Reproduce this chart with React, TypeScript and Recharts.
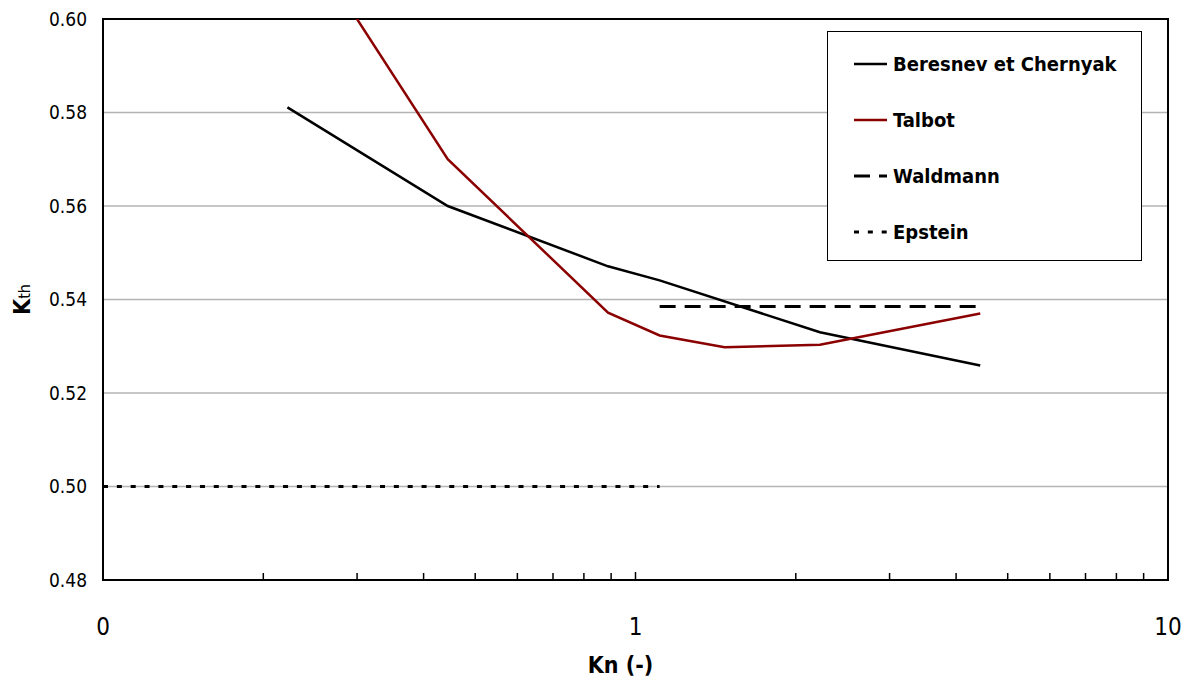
import {
  CartesianGrid,
  Legend,
  Line,
  LineChart,
  ReferenceArea,
  XAxis,
  YAxis,
} from "recharts";

// Kn values and thermal coefficient for each model
const knBeresnev = [0.222, 0.444, 0.888, 1.11, 2.22, 4.44];
const kthBeresnev = [0.5811, 0.56, 0.5471, 0.5441, 0.533, 0.5259];

const knTalbot = [0.222, 0.444, 0.888, 1.11, 1.47, 2.22, 4.44];
const kthTalbot = [0.623, 0.57, 0.5372, 0.5323, 0.5298, 0.5303, 0.537];

const knWaldmann = [1.11, 4.44];
const kthWaldmann = [0.5385, 0.5385];

const knEpstein = [0.1, 1.11];
const kthEpstein = [0.5, 0.5];

const xTicks = [
  0.1, 0.2, 0.3, 0.4, 0.5, 0.6, 0.7, 0.8, 0.9, 1, 2, 3, 4, 5, 6, 7, 8, 9, 10,
];
const xLabelled = [0.1, 1, 10];
const yTicks = [0.48, 0.5, 0.52, 0.54, 0.56, 0.58, 0.6];

const toPoints = (xs: number[], ys: number[]) =>
  xs.map((x, i) => ({ x, y: ys[i] }));

const series = [
  {
    name: "Beresnev et Chernyak",
    data: toPoints(knBeresnev, kthBeresnev),
    color: "#000000",
    dash: undefined as string | undefined,
    width: 2.5,
  },
  {
    name: "Talbot",
    data: toPoints(knTalbot, kthTalbot),
    color: "#8b0000",
    dash: undefined as string | undefined,
    width: 2.5,
  },
  {
    name: "Waldmann",
    data: toPoints(knWaldmann, kthWaldmann),
    color: "#000000",
    dash: "16 9",
    width: 3,
  },
  {
    name: "Epstein",
    data: toPoints(knEpstein, kthEpstein),
    color: "#000000",
    dash: "5 8.85",
    width: 3,
  },
];

const narrowFont = '"Liberation Sans Narrow", "DejaVu Sans Condensed", sans-serif';
const condFont = '"DejaVu Sans Condensed", "DejaVu Sans", sans-serif';

function XTick(props: any) {
  const { x, y, payload } = props;
  const value = payload?.value as number;
  const labelled = xLabelled.includes(value);

  return (
    <g>
      <line x1={x} x2={x} y1={y} y2={y - (labelled ? 8 : 7)} stroke="#000" strokeWidth={1.5} />
      {labelled && (
        <text
          x={x}
          y={y + 55}
          textAnchor="middle"
          fontFamily={narrowFont}
          fontSize={24}
          fill="#000"
        >
          {value < 1 ? "0" : String(value)}
        </text>
      )}
    </g>
  );
}

function YLabel(props: any) {
  const { viewBox } = props;
  const cx = 14;
  const cy = viewBox.y + viewBox.height / 2;

  return (
    <text
      x={cx}
      y={cy}
      transform={`rotate(-90, ${cx}, ${cy})`}
      textAnchor="middle"
      dominantBaseline="central"
      fontFamily={condFont}
      fill="#000"
    >
      <tspan fontSize={23} fontWeight="bold">K</tspan>
      <tspan fontSize={16} dy={2}>th</tspan>
    </text>
  );
}

function XLabel(props: any) {
  const { viewBox } = props;
  const cx = viewBox.x + viewBox.width / 2 - 15;

  return (
    <text
      x={cx}
      y={665}
      textAnchor="middle"
      fontFamily={narrowFont}
      fontSize={23}
      fontWeight="bold"
      fill="#000"
    >
      Kn (-)
    </text>
  );
}

function LegendBox() {
  return (
    <div
      style={{
        position: "relative",
        width: 315,
        height: 230,
        boxSizing: "border-box",
        border: "1.5px solid #000",
        background: "#fff",
      }}
    >
      {series.map((s, i) => (
        <div
          key={s.name}
          style={{
            position: "absolute",
            left: 26,
            top: 32 + i * 56 - 12,
            height: 24,
            display: "flex",
            alignItems: "center",
            whiteSpace: "nowrap",
          }}
        >
          <svg width={33} height={8} style={{ display: "block" }}>
            <line
              x1={0}
              x2={33}
              y1={4}
              y2={4}
              stroke={s.color}
              strokeWidth={s.width}
              strokeDasharray={s.dash}
            />
          </svg>
          <span
            style={{
              marginLeft: 6,
              fontFamily: condFont,
              fontWeight: "bold",
              fontSize: 20,
              color: "#000",
            }}
          >
            {s.name}
          </span>
        </div>
      ))}
    </div>
  );
}

export default function App() {
  return (
    <LineChart
      width={1184}
      height={673}
      margin={{ top: 11, right: 24, left: 0, bottom: 0 }}
      style={{ background: "#fff" }}
    >
      <CartesianGrid vertical={false} stroke="#b4b4b4" strokeWidth={1.5} />
      <XAxis
        dataKey="x"
        type="number"
        scale="log"
        domain={[0.1, 10]}
        allowDataOverflow
        ticks={xTicks}
        interval={0}
        height={101}
        axisLine={false}
        tickLine={false}
        tickSize={0}
        tickMargin={0}
        tick={(p: any) => <XTick {...p} />}
        label={{ content: (p: any) => <XLabel {...p} /> }}
      />
      <YAxis
        type="number"
        domain={[0.48, 0.6]}
        allowDataOverflow
        ticks={yTicks}
        interval={0}
        width={95}
        axisLine={false}
        tickLine={false}
        tickSize={0}
        tickMargin={16}
        tickFormatter={(v: number) => v.toFixed(2)}
        tick={{ fill: "#000", fontSize: 19, fontFamily: condFont }}
        label={{ content: (p: any) => <YLabel {...p} /> }}
      />
      <ReferenceArea
        x1={0.1}
        x2={10}
        y1={0.48}
        y2={0.6}
        fill="none"
        stroke="#000"
        strokeWidth={2}
      />
      {series.map((s) => (
        <Line
          key={s.name}
          data={s.data}
          dataKey="y"
          name={s.name}
          type="linear"
          stroke={s.color}
          strokeWidth={s.width}
          strokeDasharray={s.dash}
          dot={false}
          activeDot={false}
          isAnimationActive={false}
        />
      ))}
      <Legend
        layout="vertical"
        align="center"
        verticalAlign="middle"
        content={() => <LegendBox />}
        wrapperStyle={{ left: 819, top: 23, width: 315, height: 230 }}
      />
    </LineChart>
  );
}
